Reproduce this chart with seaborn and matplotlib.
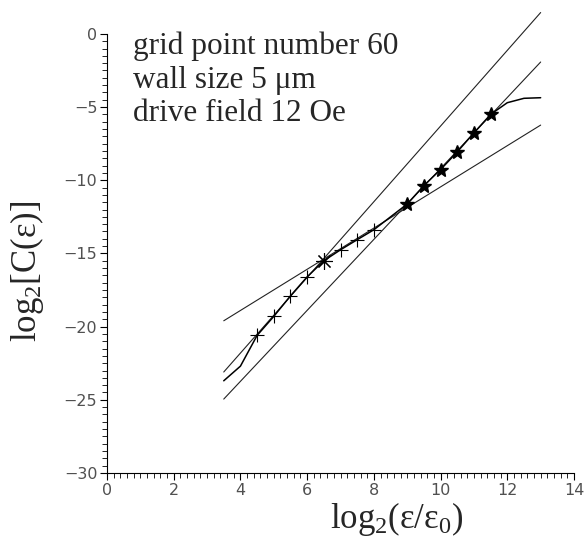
# Section 1 - Import Libraries

import numpy as np
import matplotlib.pyplot as plt
import seaborn as sns
from matplotlib.ticker import MultipleLocator

# Section 2

# measured curve log2 C(eps) vs log2(eps/eps0)
curve_x = [3.5, 4.0, 4.5, 5.0, 5.5, 6.0, 6.5, 7.0, 7.5, 8.0, 8.5, 9.0,
           9.5, 10.0, 10.5, 11.0, 11.5, 12.0, 12.5, 13.0]
curve_y = [-23.7, -22.7, -20.6, -19.3, -17.9, -16.6, -15.5, -14.75, -14.06,
           -13.38, -12.5, -11.62, -10.36, -9.27, -8.06, -6.76, -5.5, -4.7,
           -4.4, -4.36]

# cross markers (small scale region) and stars (large scale region)
cross_x = [4.5, 5.0, 5.5, 6.0, 7.0, 7.5, 8.0]
cross_y = [-20.6, -19.3, -17.9, -16.6, -14.75, -14.06, -13.38]
aster_x = [6.5]
aster_y = [-15.5]
star_x = [9.0, 9.5, 10.0, 10.5, 11.0, 11.5]
star_y = [-11.62, -10.36, -9.27, -8.06, -6.76, -5.5]

# straight fit lines (end points)
fit_x = [3.5, 13.0]
fit_steep = [-23.1, 1.46]
fit_mid = [-24.95, -1.92]
fit_flat = [-19.6, -6.23]

info = "grid point number 60\nwall size 5 \u03bcm\ndrive field 12 Oe"

# Section 3 - Plot

sns.set_style("ticks")
plt.rcParams["font.family"] = ["DejaVu Sans"]
plt.rcParams["mathtext.fontset"] = "custom"
plt.rcParams["mathtext.rm"] = "Liberation Serif"
plt.rcParams["mathtext.default"] = "rm"

fig = plt.figure(figsize=(5.84, 5.46), dpi=100)
ax = fig.add_axes([0.1832, 0.1337, 0.7997, 0.8042])

for fy in [fit_steep, fit_mid, fit_flat]:
    sns.lineplot(x=fit_x, y=fy, ax=ax, color="#222222", linewidth=0.8,
                 clip_on=False)

sns.lineplot(x=curve_x, y=curve_y, ax=ax, color="black", linewidth=1.1,
             clip_on=False)

ax.plot(cross_x, cross_y, linestyle="", marker="+", markersize=10,
        markeredgewidth=0.8, color="black")
ax.plot(aster_x, aster_y, linestyle="", marker=(8, 2, 0), markersize=12,
        markeredgewidth=0.8, color="black")
ax.plot(star_x, star_y, linestyle="", marker="*", markersize=10,
        color="black")

ax.set_xlim(0, 14)
ax.set_ylim(-30, 0)
ax.xaxis.set_major_locator(MultipleLocator(2))
ax.xaxis.set_minor_locator(MultipleLocator(0.2))
ax.yaxis.set_major_locator(MultipleLocator(5))
ax.yaxis.set_minor_locator(MultipleLocator(0.5))
ax.tick_params(which="major", length=5, width=0.8, labelsize=11.5,
               labelcolor="#505050", color="black", pad=2)
ax.tick_params(which="minor", length=3.5, width=0.6, color="black")

sns.despine(ax=ax)
for s in ["left", "bottom"]:
    ax.spines[s].set_linewidth(0.8)
    ax.spines[s].set_color("black")

ax.set_xlabel(r"log$_{2}$(ε/ε$_{0}$)", fontsize=25,
              fontfamily="Liberation Serif")
ax.xaxis.set_label_coords(0.62, -0.062)
ax.set_ylabel(r"log$_{2}$[C(ε)]", fontsize=25,
              fontfamily="Liberation Serif")
ax.yaxis.set_label_coords(-0.13, 0.46)

ax.text(0.056, 1.005, info, transform=ax.transAxes, va="top", ha="left",
        fontsize=22.5, fontfamily="Liberation Serif", linespacing=1.2)

plt.savefig("out.png", dpi=100)
